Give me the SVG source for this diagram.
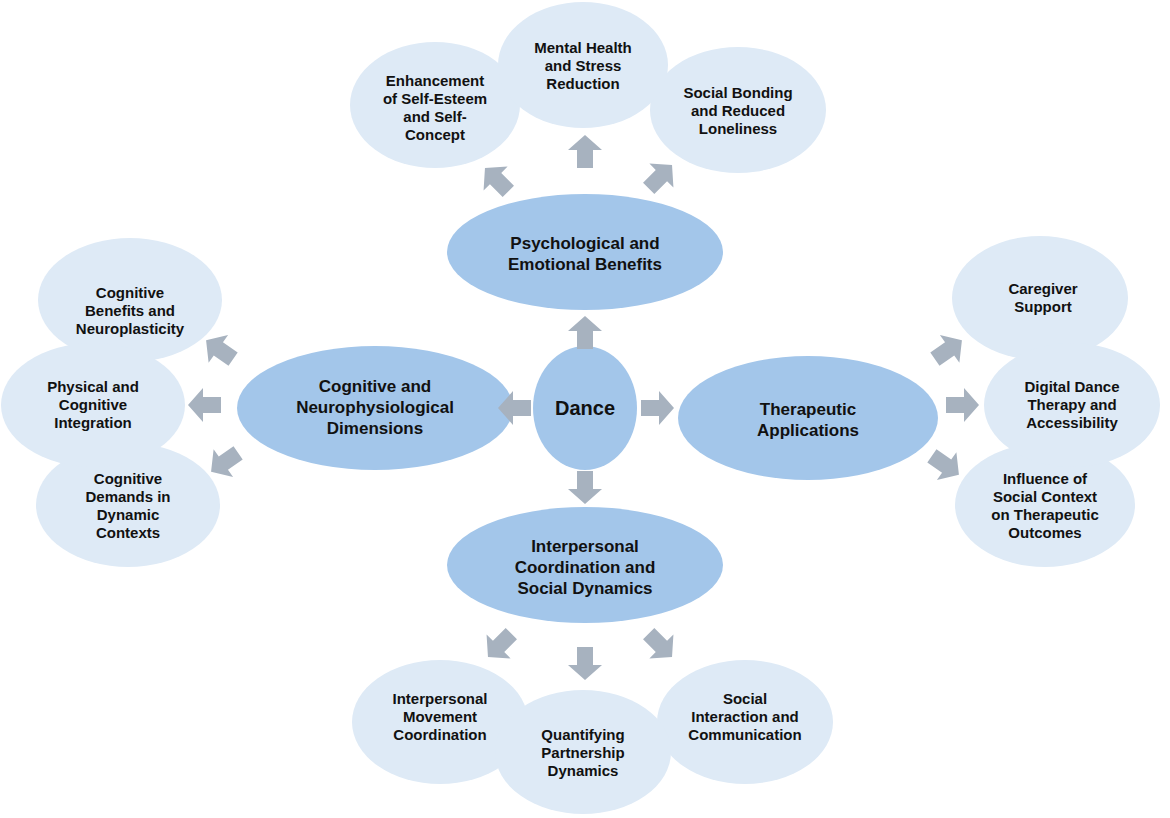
<svg xmlns="http://www.w3.org/2000/svg" width="1170" height="818" viewBox="0 0 1170 818">
<style>
.l{fill:#deeaf6}
.m{fill:#a3c6ea}
text{font-family:"Liberation Sans",Arial,sans-serif;font-weight:bold;font-size:15px;fill:#111;text-anchor:middle}
.big{font-size:17px}
.dance{font-size:20px}
.a{fill:#a7b2bf}
</style>
<defs><polygon id="ar" points="-16,-8 2,-8 2,-17 17,0 2,17 2,8 -16,8"/></defs>
<rect width="1170" height="818" fill="#fff"/>
<g id="outer-top">
<ellipse class="l" cx="435" cy="105" rx="85" ry="63"/><text x="435" y="86">Enhancement<tspan x="435" dy="18">of Self-Esteem</tspan><tspan x="435" dy="18">and Self-</tspan><tspan x="435" dy="18">Concept</tspan></text>
<ellipse class="l" cx="738" cy="110" rx="88" ry="63"/><text x="738" y="98">Social Bonding<tspan x="738" dy="18">and Reduced</tspan><tspan x="738" dy="18">Loneliness</tspan></text>
<ellipse class="l" cx="583" cy="65" rx="85" ry="63"/><text x="583" y="53">Mental Health<tspan x="583" dy="18">and Stress</tspan><tspan x="583" dy="18">Reduction</tspan></text>
</g>
<g id="outer-left">
<ellipse class="l" cx="130" cy="300" rx="92" ry="62"/><text x="130" y="298">Cognitive<tspan x="130" dy="18">Benefits and</tspan><tspan x="130" dy="18">Neuroplasticity</tspan></text>
<ellipse class="l" cx="128" cy="505" rx="92" ry="62"/><text x="128" y="484">Cognitive<tspan x="128" dy="18">Demands in</tspan><tspan x="128" dy="18">Dynamic</tspan><tspan x="128" dy="18">Contexts</tspan></text>
<ellipse class="l" cx="93" cy="405" rx="92" ry="62"/><text x="93" y="392">Physical and<tspan x="93" dy="18">Cognitive</tspan><tspan x="93" dy="18">Integration</tspan></text>
</g>
<g id="outer-right">
<ellipse class="l" cx="1040" cy="298" rx="88" ry="62"/><text x="1043" y="294">Caregiver<tspan x="1043" dy="18">Support</tspan></text>
<ellipse class="l" cx="1045" cy="505" rx="90" ry="62"/><text x="1045" y="484">Influence of<tspan x="1045" dy="18">Social Context</tspan><tspan x="1045" dy="18">on Therapeutic</tspan><tspan x="1045" dy="18">Outcomes</tspan></text>
<ellipse class="l" cx="1072" cy="405" rx="88" ry="62"/><text x="1072" y="392">Digital Dance<tspan x="1072" dy="18">Therapy and</tspan><tspan x="1072" dy="18">Accessibility</tspan></text>
</g>
<g id="outer-bottom">
<ellipse class="l" cx="440" cy="722" rx="88" ry="62"/><text x="440" y="704">Interpersonal<tspan x="440" dy="18">Movement</tspan><tspan x="440" dy="18">Coordination</tspan></text>
<ellipse class="l" cx="745" cy="722" rx="88" ry="62"/><text x="745" y="704">Social<tspan x="745" dy="18">Interaction and</tspan><tspan x="745" dy="18">Communication</tspan></text>
<ellipse class="l" cx="583" cy="752" rx="88" ry="62"/><text x="583" y="740">Quantifying<tspan x="583" dy="18">Partnership</tspan><tspan x="583" dy="18">Dynamics</tspan></text>
</g>
<g id="mid">
<ellipse class="m" cx="585" cy="252" rx="138" ry="58"/><text class="big" x="585" y="249">Psychological and<tspan x="585" dy="21">Emotional Benefits</tspan></text>
<ellipse class="m" cx="375" cy="408" rx="138" ry="62"/><text class="big" x="375" y="392">Cognitive and<tspan x="375" dy="21">Neurophysiological</tspan><tspan x="375" dy="21">Dimensions</tspan></text>
<ellipse class="m" cx="808" cy="418" rx="130" ry="62"/><text class="big" x="808" y="415">Therapeutic<tspan x="808" dy="21">Applications</tspan></text>
<ellipse class="m" cx="585" cy="565" rx="138" ry="58"/><text class="big" x="585" y="552">Interpersonal<tspan x="585" dy="21">Coordination and</tspan><tspan x="585" dy="21">Social Dynamics</tspan></text>
<ellipse class="m" cx="585" cy="408" rx="52" ry="62"/><text class="dance" x="585" y="415">Dance</text>
</g>
<g id="connectors" class="a">
<use href="#ar" transform="translate(585,333) rotate(-90)"/>
<use href="#ar" transform="translate(515,408) rotate(180)"/>
<use href="#ar" transform="translate(657,408)"/>
<use href="#ar" transform="translate(585,487) rotate(90)"/>
<use href="#ar" transform="translate(497,180) rotate(-135)"/>
<use href="#ar" transform="translate(585,152) rotate(-90)"/>
<use href="#ar" transform="translate(660,177) rotate(-45)"/>
<use href="#ar" transform="translate(220,350) rotate(-145)"/>
<use href="#ar" transform="translate(205,405) rotate(180)"/>
<use href="#ar" transform="translate(225,462) rotate(145)"/>
<use href="#ar" transform="translate(948,350) rotate(-35)"/>
<use href="#ar" transform="translate(962,405)"/>
<use href="#ar" transform="translate(945,465) rotate(35)"/>
<use href="#ar" transform="translate(500,645) rotate(135)"/>
<use href="#ar" transform="translate(585,663) rotate(90)"/>
<use href="#ar" transform="translate(660,645) rotate(45)"/>
</g>
</svg>
